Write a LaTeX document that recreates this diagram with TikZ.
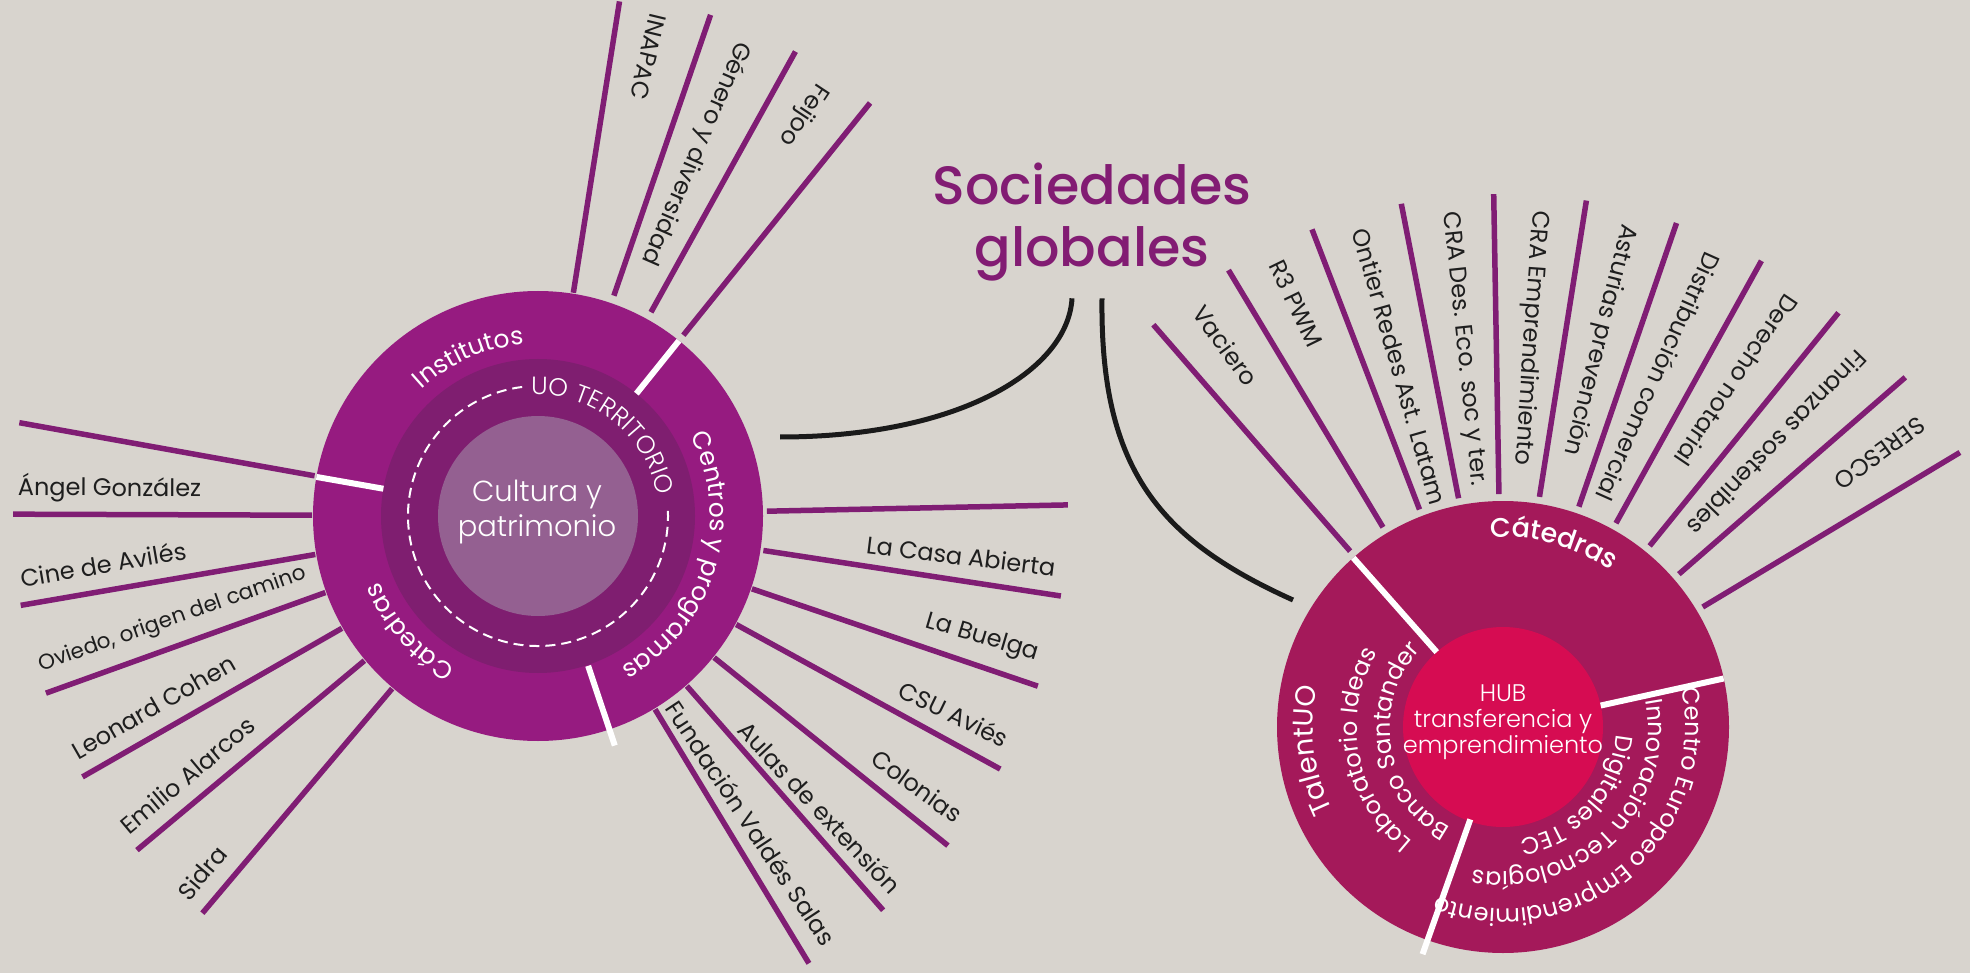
\documentclass[tikz,border=0pt]{standalone}
\usepackage{fontspec}
\setmainfont{Poppins}
\IfFontExistsTF{Poppins Light}{\newfontfamily\plight{Poppins Light}}{\newfontfamily\plight{Poppins}}
\IfFontExistsTF{Poppins Medium}{\newfontfamily\pmed{Poppins Medium}}{\newfontfamily\pmed{Poppins}}
\usetikzlibrary{calc,decorations.text}
\definecolor{bg}{HTML}{D8D4CE}
\definecolor{ringL}{HTML}{961B80}
\definecolor{ringD}{HTML}{7F1E70}
\definecolor{coreL}{HTML}{946091}
\definecolor{spokec}{HTML}{801D74}
\definecolor{ringR}{HTML}{A4195A}
\definecolor{coreR}{HTML}{D60C52}
\definecolor{titlec}{HTML}{821C73}
\definecolor{ink}{HTML}{1E1E1E}
\definecolor{curvec}{HTML}{1A1A1A}
\newcommand\ringlabel[5]{%
  \path[decorate, decoration={text along path, text align=center, text color=white,
    text={|#4|#5}}]
    ($(#1)+({#3+70}:#2)$) arc[start angle={#3+70}, end angle={#3-70}, radius=#2];}
\begin{document}
\begin{tikzpicture}[x=1pt,y=1pt,
  spoke/.style={line width=5.5pt, draw=spokec},
  divider/.style={line width=6pt, draw=white},
  lab/.style={font=\fontsize{24}{24}\selectfont, text=ink, inner sep=0pt},
  blackcurve/.style={line width=5pt, draw=curvec},
  disc/.style={circle, inner sep=0pt, draw=none}]
\useasboundingbox (0,0) rectangle (1970,-973);
\fill[bg] (0,0) rectangle (1970,-973);
\coordinate (L) at (538,-516);
\coordinate (R) at (1503,-727);
% spokes, left circle
\foreach \a/\ri/\ro in {81/226/521, 71/233/530, 61/233/531, 51.2/232/530,
  169.8/227/527, 179.8/226/525, 189.8/226/525, 199.8/226/523, 209.8/226/525, 219.8/226/522, 229.8/226/520,
  1.2/229/530, -8.7/228/529, -18.8/226/528, -28.7/226/527, -38.8/226/526, -48.8/226/524, -58.8/226/523}
  \draw[spoke] ($(L)+(\a:\ri)$) -- ($(L)+(\a:\ro)$);
% spokes, right circle
\foreach \a in {131,121,111,101,91,81,71,61,51,41,31}
  \draw[spoke] ($(R)+(\a:233)$) -- ($(R)+(\a:533)$);
% left circle
\node[disc, fill=ringL, minimum size=450pt] (leftouter) at (L) {};
\node[disc, fill=ringD, minimum size=314pt] (leftmid) at (L) {};
\node[disc, fill=coreL, minimum size=200pt] (leftcore) at (L) {};
\draw[white, line width=2pt, dash pattern=on 10pt off 6pt] ($(L)+(97:130)$) arc[start angle=97, end angle=364, radius=130];
\draw[divider] ($(L)+(51.2:157)$) -- ($(L)+(51.2:225)$);
\draw[divider] ($(L)+(170:157)$) -- ($(L)+(170:225)$);
\draw[divider] ($(L)+(-71.5:158)$) -- ($(L)+(-71.5:242)$);
% right circle
\node[disc, fill=ringR, minimum size=452pt] (rightouter) at (R) {};
\node[disc, fill=coreR, minimum size=200pt] (rightcore) at (R) {};
\draw[divider] ($(R)+(131.5:100)$) -- ($(R)+(131.5:226)$);
\draw[divider] ($(R)+(12.4:100)$) -- ($(R)+(12.4:226)$);
\draw[divider] ($(R)+(250.5:98)$) -- ($(R)+(250.5:241)$);
% centre texts
\node[align=center, text=white, font={\plight\fontsize{29}{35}\selectfont}] (cultura) at (537,-512) {Cultura y\\patrimonio};
\node[align=center, text=white, font={\plight\fontsize{24}{26}\selectfont}] (hub) at (1503,-722) {HUB\\transferencia y\\emprendimiento};
% ring texts, left
\ringlabel{L}{121}{51.5}{\plight\fontsize{25}{25}\selectfont}{UO TERRITORIO}
\ringlabel{L}{172}{113.5}{\fontsize{25}{25}\selectfont}{Institutos}
\ringlabel{L}{172}{-16.75}{\fontsize{25}{25}\selectfont}{Centros y programas}
\ringlabel{L}{172}{221.8}{\fontsize{25}{25}\selectfont}{Cátedras}
% ring texts, right
\ringlabel{R}{190}{74.7}{\pmed\fontsize{27}{27}\selectfont}{Cátedras}
\ringlabel{R}{190}{187}{\fontsize{28}{28}\selectfont}{TalentUO}
\ringlabel{R}{146}{190.5}{\fontsize{24}{24}\selectfont}{Laboratorio Ideas}
\ringlabel{R}{113}{189.5}{\fontsize{24}{24}\selectfont}{Banco Santander}
\ringlabel{R}{182}{-49.6}{\fontsize{24}{24}\selectfont}{Centro Europeo Emprendimiento}
\ringlabel{R}{145}{-45.6}{\fontsize{24}{24}\selectfont}{Innovación Tecnologías}
\ringlabel{R}{113}{-42.8}{\fontsize{24}{24}\selectfont}{Digitales TEC}
% title and connectors
\node[align=center, text=titlec, font={\pmed\fontsize{54}{62}\selectfont}, inner sep=0pt] (title) at (1092,-222) {Sociedades\\globales};
\coordinate (endleft) at (780,-437);
\coordinate (endright) at (1293,-600);
\draw[blackcurve] ($(title.south)+(-20,-17)$) .. controls (1068,-370) and (960,-437) .. (endleft);
\draw[blackcurve] ($(title.south)+(10,-17)$) .. controls (1100,-470) and (1160,-540) .. (endright);
% labels, left circle top
\node[lab, anchor=west, rotate=-103.5] (inapac) at ($(L)+(76.5:516)$) {INAPAC};
\node[lab, anchor=west, rotate=-113.5] (genero) at ($(L)+(66.5:516)$) {Género y diversidad};
\node[lab, anchor=west, rotate=-123.5] (feijoo) at ($(L)+(56.5:516)$) {Feijoo};
% labels, left circle left side
\node[lab, anchor=west, rotate=-0.2] (angel) at ($(L)+(176.9:521)$) {Ángel González};
\node[lab, anchor=west, rotate=9.8] (cine) at ($(L)+(186.9:521)$) {Cine de Avilés};
\node[lab, anchor=west, rotate=19.3, font=\fontsize{21.5}{21.5}\selectfont] (oviedo) at ($(L)+(196.8:521)$) {Oviedo, origen del camino};
\node[lab, anchor=west, rotate=29.8] (leonard) at ($(L)+(207:521)$) {Leonard Cohen};
\node[lab, anchor=west, rotate=39.8] (emilio) at ($(L)+(217:519)$) {Emilio Alarcos};
\node[lab, anchor=west, rotate=49.8] (sidra) at ($(L)+(226.9:521)$) {Sidra};
% labels, left circle right side
\node[lab, anchor=east, rotate=-7] (casa) at ($(L)+(-5.7:520)$) {La Casa Abierta};
\node[lab, anchor=east, rotate=-16.5] (buelga) at ($(L)+(-15.5:519)$) {La Buelga};
\node[lab, anchor=east, rotate=-26] (csu) at ($(L)+(-25.5:520)$) {CSU Aviés};
\node[lab, anchor=east, rotate=-36] (colonias) at ($(L)+(-35.5:518)$) {Colonias};
\node[lab, anchor=east, rotate=-47] (aulas) at ($(L)+(-46.2:518)$) {Aulas de extensión};
\node[lab, anchor=east, rotate=-56.5] (fundacion) at ($(L)+(-55.6:517)$) {Fundación Valdés Salas};
% labels, right circle
\node[lab, anchor=west, rotate=-54] (vaciero) at ($(R)+(126:518)$) {Vaciero};
\node[lab, anchor=west, rotate=-64] (r3pwm) at ($(R)+(116:518)$) {R3 PWM};
\node[lab, anchor=west, rotate=-74] (ontier) at ($(R)+(106:518)$) {Ontier Redes Ast. Latam};
\node[lab, anchor=west, rotate=-84] (cradeseco) at ($(R)+(96:518)$) {CRA Des. Eco. soc y ter.};
\node[lab, anchor=west, rotate=-94] (craemp) at ($(R)+(86:518)$) {CRA Emprendimiento};
\node[lab, anchor=west, rotate=-104] (asturias) at ($(R)+(76:518)$) {Asturias prevención};
\node[lab, anchor=west, rotate=-114] (distrib) at ($(R)+(66:518)$) {Distribución comercial};
\node[lab, anchor=west, rotate=-124] (derecho) at ($(R)+(56:518)$) {Derecho notarial};
\node[lab, anchor=west, rotate=-134] (finanzas) at ($(R)+(46:518)$) {Finanzas sostenibles};
\node[lab, anchor=west, rotate=-144] (seresco) at ($(R)+(36:518)$) {SERESCO};
\end{tikzpicture}
\end{document}
